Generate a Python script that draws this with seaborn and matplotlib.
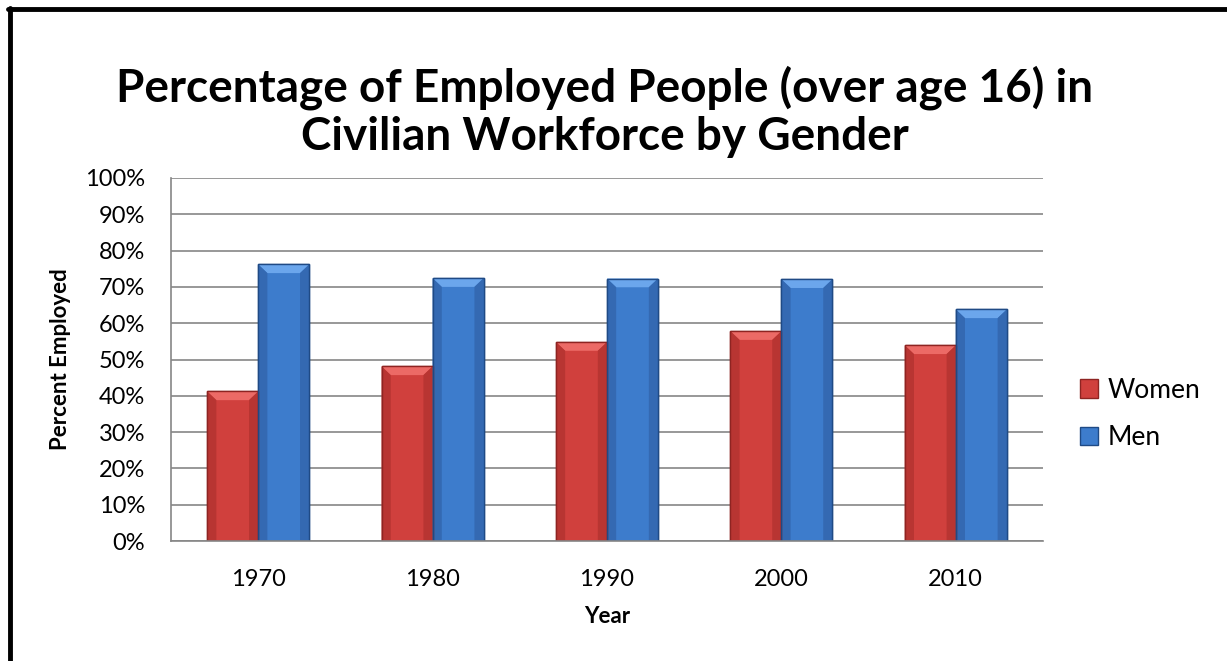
import matplotlib.pyplot as plt
import seaborn as sns
import pandas as pd
from matplotlib.patches import Patch, Polygon
from matplotlib.lines import Line2D

years = ['1970', '1980', '1990', '2000', '2010']
women = [41.2, 48.1, 54.8, 57.8, 53.9]
men = [76.2, 72.4, 72.3, 72.1, 63.8]

df = pd.DataFrame({
    'Year': years * 2,
    'Percent': women + men,
    'Gender': ['Women'] * 5 + ['Men'] * 5,
})

red = '#D0403D'
blue = '#3D7CCC'
red_edge = '#8E2422'
blue_edge = '#1F4A85'
red_top = '#EC6A66'
blue_top = '#6BA6EC'
red_side = '#B83532'
blue_side = '#3469B2'

sns.set_style('white')
plt.rcParams['font.family'] = ['Lato', 'DejaVu Sans']
plt.rcParams['text.color'] = 'black'
plt.rcParams['xtick.color'] = 'black'
plt.rcParams['ytick.color'] = 'black'
plt.rcParams['axes.labelcolor'] = 'black'

fig = plt.figure(figsize=(12.27, 6.61), dpi=100)
ax = fig.add_axes([171 / 1227, 1 - 541 / 661, 872 / 1227, 363 / 661])

sns.barplot(data=df, x='Year', y='Percent', hue='Gender', order=years,
            hue_order=['Women', 'Men'], palette=[red, blue], width=0.585,
            saturation=1, ax=ax, legend=False)

# bevel look: lighter top face and darker side strips, taken from each bar's own box
bars = list(ax.patches)
styles = [(red_edge, red_top, red_side)] * 5 + [(blue_edge, blue_top, blue_side)] * 5
for bar, (edge, top, side) in zip(bars, styles):
    bar.set_edgecolor(edge)
    bar.set_linewidth(1.0)
    x0, w, h = bar.get_x(), bar.get_width(), bar.get_height()
    dx, dy = w * 0.18, 2.4
    for pts, col in [
        ([(x0, h), (x0 + w, h), (x0 + w - dx, h - dy), (x0 + dx, h - dy)], top),
        ([(x0, 0), (x0, h), (x0 + dx, h - dy), (x0 + dx, 0)], side),
        ([(x0 + w, 0), (x0 + w, h), (x0 + w - dx, h - dy), (x0 + w - dx, 0)], side),
    ]:
        ax.add_patch(Polygon(pts, closed=True, facecolor=col, edgecolor='none', zorder=bar.get_zorder()))
    ax.add_patch(plt.Rectangle((x0, 0), w, h, facecolor='none', edgecolor=edge,
                               linewidth=1.0, zorder=bar.get_zorder() + 0.1))

ax.set_xlim(-0.5, 4.5)
ax.set_ylim(0, 100)
ax.set_yticks(range(0, 101, 10))
ax.set_yticklabels([f'{v}%' for v in range(0, 101, 10)])
ax.set_xticks([i - 0.5 for i in range(6)], minor=True)
ax.tick_params(axis='x', which='minor', length=7, color='#868686', width=1.2, direction='out')
ax.tick_params(axis='x', which='major', length=0, pad=20, labelsize=17)
ax.tick_params(axis='y', length=6.5, color='#868686', width=1.2, direction='out',
               pad=12, labelsize=17)
ax.yaxis.grid(True, color='#868686', linewidth=1.2)
ax.set_axisbelow(True)
for side in ['top', 'right']:
    ax.spines[side].set_visible(False)
for side in ['left', 'bottom']:
    ax.spines[side].set_color('#868686')
    ax.spines[side].set_linewidth(1.2)

ax.set_xlabel('Year', fontsize=16, fontweight='bold', labelpad=12)
ax.set_ylabel('Percent Employed', fontsize=16, fontweight='bold', labelpad=10)

fig.text(0.493, 1 - 111.5 / 661, 'Percentage of Employed People (over age 16) in\nCivilian Workforce by Gender',
         ha='center', va='center', fontsize=33, fontweight='bold', linespacing=1.16)

handles = [Patch(facecolor=red, edgecolor=red_edge), Patch(facecolor=blue, edgecolor=blue_edge)]
fig.legend(handles, ['Women', 'Men'], loc='center left',
           bbox_to_anchor=(1056 / 1227, 1 - 414 / 661), frameon=False, fontsize=19,
           handlelength=0.7, handleheight=0.7, handletextpad=0.35, labelspacing=0.85)

fig.add_artist(Line2D([10 / 1227, 10 / 1227], [0, 1 - 8 / 661], color='black', linewidth=3.5))
fig.add_artist(Line2D([8 / 1227, 1], [1 - 8.5 / 661, 1 - 8.5 / 661], color='black', linewidth=3.5))

fig.savefig('out.png', dpi=100)
